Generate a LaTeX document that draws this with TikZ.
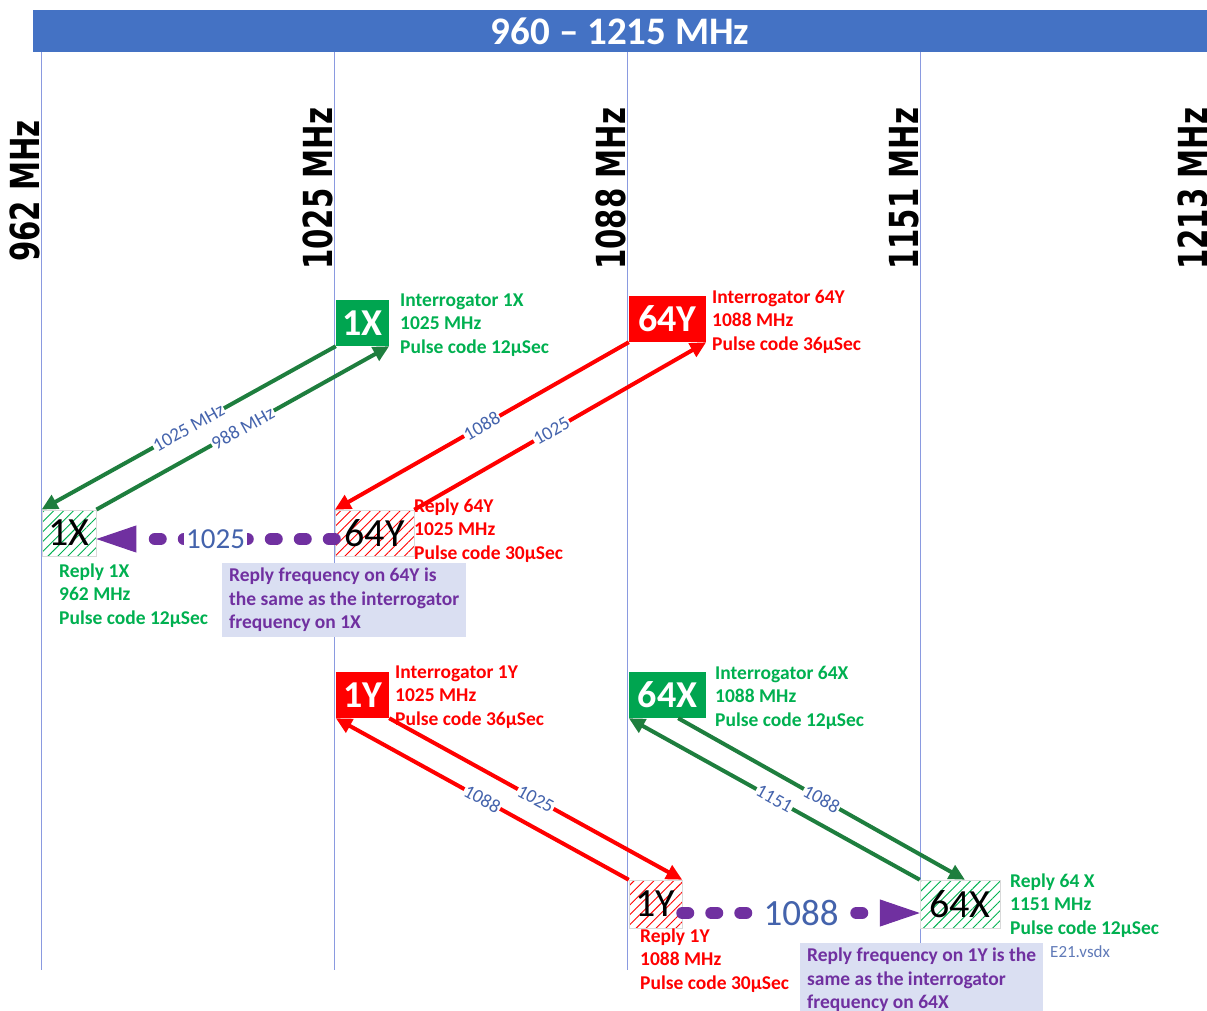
\documentclass[tikz,border=0pt]{standalone}
\usepackage{fontspec}
\usepackage{graphicx}
\setmainfont{Carlito}
\newfontfamily\vfont{DejaVu Sans}
\usetikzlibrary{arrows.meta,patterns.meta,calc}
\definecolor{barblue}{HTML}{4472C4}
\definecolor{vline}{HTML}{8A9AE0}
\definecolor{gbox}{HTML}{00A550}
\definecolor{gtext}{HTML}{00B050}
\definecolor{garrow}{HTML}{1E7E3E}
\definecolor{rred}{HTML}{FF0000}
\definecolor{lblue}{HTML}{4463AC}
\definecolor{purp}{HTML}{7030A0}
\definecolor{notefill}{HTML}{DADFF2}
\begin{document}
\begin{tikzpicture}[x=1pt,y=-1pt,
  vl/.style={draw=vline, line width=1pt},
  vlab/.style={anchor=base west, rotate=90, inner sep=0pt, font=\vfont\bfseries\fontsize{40}{40}\selectfont},
  ibox/.style={minimum width=#1, minimum height=46pt, inner sep=0pt, text=white, font=\bfseries\fontsize{38}{38}\selectfont},
  rbox/.style={minimum width=#1, inner sep=0pt, text=black, draw=black!15, line width=0.5pt,
     pattern={Lines[angle=45,distance=7pt,line width=0.9pt]}, font=\fontsize{40}{40}\selectfont},
  garr/.style={draw=garrow, line width=4pt, -{Triangle[length=16pt,width=15pt]}},
  rarr/.style={draw=rred, line width=4pt, -{Triangle[length=16pt,width=15pt]}},
  parr/.style={draw=purp, line width=12pt, dash pattern=on 6pt off 23pt, line cap=round, -{Triangle[length=40pt,width=27pt,line width=1pt]}},
  alab/.style={sloped, fill=white, inner sep=1pt, text=lblue, font=\fontsize{19}{19}\selectfont},
  plab/.style={midway, fill=white, inner sep=2pt, text=lblue},
  lbl/.style={anchor=north west, inner sep=0pt, align=left, font=\bfseries\fontsize{19.5}{23.5}\selectfont},
  note/.style={anchor=north west, fill=notefill, text=purp, align=left, inner xsep=7pt, inner ysep=5pt, font=\bfseries\fontsize{19.5}{23.5}\selectfont}
]
\useasboundingbox (0,0) rectangle (1207,1010);
\clip (0,0) rectangle (1207,1010);

% vertical frequency lines
\draw[vl] (41,52) -- (41,970);
\draw[vl] (334,52) -- (334,970);
\draw[vl] (627,52) -- (627,970);
\draw[vl] (920,52) -- (920,945);

% top bar
\node[fill=barblue, minimum width=1174pt, minimum height=42pt, inner sep=0pt, anchor=north west,
      text=white, font=\bfseries\fontsize{39}{39}\selectfont] (bar) at (33,10) {960 – 1215 MHz};

% vertical labels
\node[vlab] (v962) at (39,262) {\scalebox{0.73}[1]{962 MHz}};
\node[vlab] (v1025) at (332,270) {\scalebox{0.73}[1]{1025 MHz}};
\node[vlab] (v1088) at (625,270) {\scalebox{0.73}[1]{1088 MHz}};
\node[vlab] (v1151) at (918,270) {\scalebox{0.73}[1]{1151 MHz}};
\node[vlab] (v1213) at (1207,270) {\scalebox{0.73}[1]{1213 MHz}};

% interrogator boxes
\node[ibox=53pt, fill=gbox] (i1x) at (362.5,323) {1X};
\node[ibox=77pt, fill=rred] (i64y) at (667.5,319) {64Y};
\node[ibox=53pt, fill=rred] (i1y) at (362.5,695) {1Y};
\node[ibox=77pt, fill=gbox] (i64x) at (667.5,695) {64X};

% reply boxes
\node[rbox=54pt, minimum height=46pt, pattern color=gtext] (r1x) at (69,533) {1X};
\node[rbox=79pt, minimum height=46pt, pattern color=rred] (r64y) at (374.5,533) {64Y};
\node[rbox=53pt, minimum height=48pt, pattern color=rred] (r1y) at (655.5,904) {1Y};
\node[rbox=80pt, minimum height=48pt, pattern color=gtext] (r64x) at (960,904) {64X};

% diagonal arrows
\draw[garr] (i1x.south west) -- node[alab]{1025 MHz} (r1x.north west);
\draw[garr] (r1x.north east) -- node[alab]{988 MHz} (i1x.south east);
\draw[rarr] (i64y.south west) -- node[alab]{1088} (r64y.north west);
\draw[rarr] (r64y.north east) -- node[alab,pos=0.47]{1025} (i64y.south east);
\draw[rarr] (i1y.south east) -- node[alab]{1025} (r1y.north east);
\draw[rarr] (r1y.north west) -- node[alab]{1088} (i1y.south west);
\draw[garr] (r64x.north west) -- node[alab]{1151} (i64x.south west);
\draw[garr] ($(i64x.south east)+(-28,0)$) -- node[alab]{1088} ($(r64x.north)+(5,0)$);

% purple reply-frequency arrows
\draw[parr] ($(r64y.west)+(0,6)$) -- node[plab, font=\fontsize{29}{29}\selectfont]{1025} ($(r1x.east)+(0,6)$);
\draw[parr] ($(r1y.east)+(0,9)$) -- node[plab, font=\fontsize{37}{37}\selectfont]{1088} ($(r64x.west)+(0,9)$);

% text labels
\node[lbl, text=gtext] (t1) at (400,293.5) {Interrogator 1X\\1025 MHz\\Pulse code 12µSec};
\node[lbl, text=rred] (t2) at (712,289.5) {Interrogator 64Y\\1088 MHz\\Pulse code 36µSec};
\node[lbl, text=rred] (t3) at (414,498.5) {Reply 64Y\\1025 MHz\\Pulse code 30µSec};
\node[lbl, text=gtext] (t4) at (59,563.5) {Reply 1X\\962 MHz\\Pulse code 12µSec};
\node[lbl, text=rred] (t5) at (395,665.5) {Interrogator 1Y\\1025 MHz\\Pulse code 36µSec};
\node[lbl, text=gtext] (t6) at (715,665.5) {Interrogator 64X\\1088 MHz\\Pulse code 12µSec};
\node[lbl, text=gtext] (t7) at (1010,873.5) {Reply 64 X\\1151 MHz\\Pulse code 12µSec};
\node[lbl, text=rred] (t8) at (640,928.5) {Reply 1Y\\1088 MHz\\Pulse code 30µSec};

% notes
\node[note] (n1) at (222,563) {Reply frequency on 64Y is\\the same as the interrogator\\frequency on 1X};
\node[note] (n2) at (800,943) {Reply frequency on 1Y is the\\same as the interrogator\\frequency on 64X};

\node[anchor=west, inner sep=0pt, text=lblue!85, font=\fontsize{17}{17}\selectfont] (fn) at (1050,952) {E21.vsdx};
\end{tikzpicture}
\end{document}
